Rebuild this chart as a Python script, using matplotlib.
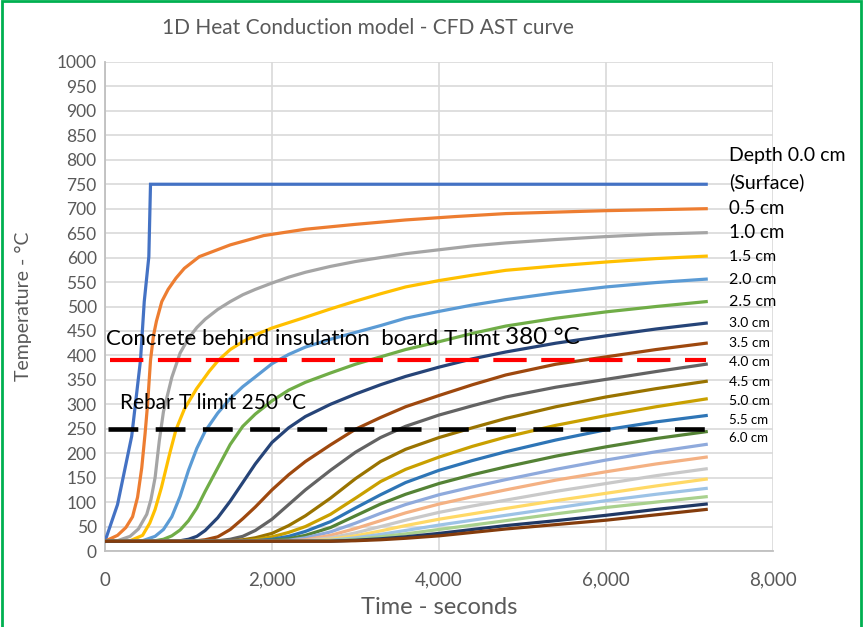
import matplotlib
matplotlib.use("Agg")
import matplotlib.pyplot as plt
from matplotlib.patches import Rectangle

plt.rcParams['font.family'] = ['Lato', 'DejaVu Sans']

# surface and the shallow nodes have their own (finer) time steps, seconds
t_surface = [0, 150, 320, 425, 470, 525, 545, 7200]
T_surface = [20, 95, 235, 390, 510, 602, 750, 750]

t_05 = [0, 150, 250, 330, 390, 440, 480, 510, 545, 580, 616, 680, 756, 850, 950, 1130,
        1500, 1900, 2400, 3000, 3600, 4200, 4800, 5400, 6000, 6600, 7200]
T_05 = [20, 32, 48, 70, 110, 170, 240, 300, 390, 440, 470, 510, 535, 558, 578, 602,
        626, 645, 658, 668, 677, 684, 690, 693, 696, 698, 700]

t_10 = [0, 150, 300, 400, 500, 550, 600, 650, 700, 800, 900, 1000, 1100, 1200, 1350, 1500,
        1650, 1800, 2000, 2200, 2400, 2700, 3000, 3300, 3600, 4000, 4400, 4800,
        5400, 6000, 6600, 7200]
T_10 = [20, 21, 30, 45, 75, 105, 150, 225, 285, 355, 405, 435, 457, 474, 494, 510,
        524, 535, 548, 560, 570, 582, 592, 600, 608, 616, 624, 630,
        637, 643, 648, 651]

t_15 = [0, 300, 450, 536, 600, 676, 776, 850, 950, 1097, 1250, 1358, 1500, 1650, 1800,
        2000, 2200, 2400, 2700, 3000, 3300, 3600, 4000, 4400, 4800, 5400, 6000,
        6600, 7200]
T_15 = [20, 21, 32, 57, 85, 130, 200, 248, 290, 332, 368, 390, 412, 428, 442,
        456, 467, 478, 495, 511, 526, 540, 553, 564, 574, 583, 591,
        598, 603]

# common time grid for the deeper nodes
t_grid = [0, 300, 450, 600, 700, 800, 900, 1000, 1100, 1200, 1350, 1500, 1650, 1800,
          2000, 2200, 2400, 2700, 3000, 3300, 3600, 4000, 4400, 4800, 5400, 6000,
          6600, 7200]

T_20 = [20, 20, 21, 30, 44, 70, 112, 165, 210, 245, 282, 312, 336, 356,
        383, 402, 417, 433, 447, 461, 476, 490, 503, 514, 528, 540, 549, 556]
T_25 = [20, 20, 20, 21, 24, 31, 43, 62, 88, 122, 170, 218, 255, 280,
        307, 329, 345, 364, 382, 397, 412, 428, 445, 460, 476, 489, 500, 510]
T_30 = [20, 20, 20, 20, 20, 20, 21, 24, 30, 42, 68, 102, 140, 178,
        222, 252, 275, 300, 321, 340, 357, 376, 393, 407, 425, 440, 454, 466]
T_35 = [20, 20, 20, 20, 20, 20, 20, 20, 21, 23, 29, 44, 66, 90,
        125, 156, 183, 217, 249, 273, 295, 318, 340, 360, 382, 397, 412, 425]
T_40 = [20, 20, 20, 20, 20, 20, 20, 20, 20, 20, 21, 24, 30, 42,
        65, 95, 125, 165, 202, 232, 255, 278, 297, 315, 335, 351, 367, 382]
T_45 = [20, 20, 20, 20, 20, 20, 20, 20, 20, 20, 20, 21, 23, 27,
        36, 52, 72, 108, 148, 183, 208, 232, 252, 271, 295, 315, 332, 347]
T_50 = [20, 20, 20, 20, 20, 20, 20, 20, 20, 20, 20, 20, 21, 23,
        29, 38, 50, 75, 108, 142, 167, 192, 214, 233, 257, 277, 295, 311]
T_55 = [20, 20, 20, 20, 20, 20, 20, 20, 20, 20, 20, 20, 20, 21,
        24, 30, 40, 60, 88, 115, 140, 165, 185, 203, 227, 248, 264, 277]
T_60 = [20, 20, 20, 20, 20, 20, 20, 20, 20, 20, 20, 20, 20, 20,
        22, 25, 32, 48, 72, 96, 116, 138, 156, 172, 194, 213, 230, 244]
T_65 = [20, 20, 20, 20, 20, 20, 20, 20, 20, 20, 20, 20, 20, 20,
        21, 22, 27, 39, 57, 77, 95, 115, 131, 146, 167, 186, 203, 218]
T_70 = [20, 20, 20, 20, 20, 20, 20, 20, 20, 20, 20, 20, 20, 20,
        20, 21, 23, 32, 46, 62, 78, 96, 111, 125, 145, 162, 178, 192]
T_75 = [20, 20, 20, 20, 20, 20, 20, 20, 20, 20, 20, 20, 20, 20,
        20, 20, 21, 27, 37, 50, 63, 79, 92, 104, 122, 138, 154, 168]
T_80 = [20, 20, 20, 20, 20, 20, 20, 20, 20, 20, 20, 20, 20, 20,
        20, 20, 20, 24, 31, 41, 52, 65, 76, 87, 103, 118, 133, 147]
T_85 = [20, 20, 20, 20, 20, 20, 20, 20, 20, 20, 20, 20, 20, 20,
        20, 20, 20, 22, 27, 34, 42, 53, 63, 73, 88, 103, 116, 128]
T_90 = [20, 20, 20, 20, 20, 20, 20, 20, 20, 20, 20, 20, 20, 20,
        20, 20, 20, 21, 24, 29, 35, 44, 53, 62, 76, 89, 100, 111]
T_95 = [20, 20, 20, 20, 20, 20, 20, 20, 20, 20, 20, 20, 20, 20,
        20, 20, 20, 20, 22, 25, 29, 36, 44, 52, 62, 73, 85, 96]
T_100 = [20, 20, 20, 20, 20, 20, 20, 20, 20, 20, 20, 20, 20, 20,
         20, 20, 20, 20, 21, 23, 26, 31, 38, 45, 54, 63, 74, 85]

deep_series = [T_20, T_25, T_30, T_35, T_40, T_45, T_50, T_55, T_60,
               T_65, T_70, T_75, T_80, T_85, T_90, T_95, T_100]

colors = ['#4472C4', '#ED7D31', '#A5A5A5', '#FFC000', '#5B9BD5', '#70AD47',
          '#264478', '#9E480E', '#636363', '#997300', '#C9A000', '#2E75B6',
          '#548235', '#8FAADC', '#F4B183', '#C9C9C9', '#FFD966', '#9DC3E6',
          '#A9D18E', '#203864', '#843C0C']

depth_labels = ["Depth 0.0 cm", "(Surface)", "0.5 cm", "1.0 cm", "1.5 cm", "2.0 cm",
                "2.5 cm", "3.0 cm", "3.5 cm", "4.0 cm", "4.5 cm", "5.0 cm",
                "5.5 cm", "6.0 cm"]

concrete_limit = 390
rebar_limit = 250

fig = plt.figure(figsize=(8.64, 6.27), dpi=100)
W, H = 864, 627
ax = fig.add_axes([105 / W, 1 - 551 / H, (773 - 105) / W, (551 - 62) / H])

lw = 2.3
ax.plot(t_surface, T_surface, color=colors[0], lw=lw, solid_joinstyle='miter', zorder=3)
ax.plot(t_05, T_05, color=colors[1], lw=lw, zorder=3)
ax.plot(t_10, T_10, color=colors[2], lw=lw, zorder=3)
ax.plot(t_15, T_15, color=colors[3], lw=lw, zorder=3)
for i, T in enumerate(deep_series):
    ax.plot(t_grid, T, color=colors[i + 4], lw=lw, zorder=3)

ax.plot([60, 7200], [concrete_limit, concrete_limit], color='#FF0000', lw=3,
        dashes=(8, 3.5), zorder=4)
ax.plot([40, 7200], [rebar_limit, rebar_limit], color='black', lw=3.3,
        dashes=(6.5, 3.8), zorder=4)

ax.set_xlim(0, 8000)
ax.set_ylim(0, 1000)
ax.set_xticks(range(0, 8001, 2000))
ax.set_xticklabels([f"{v:,}" for v in range(0, 8001, 2000)])
ax.set_yticks(range(0, 1001, 50))
ax.grid(True, color='#D9D9D9', lw=1.2, zorder=0)
ax.set_axisbelow(True)
ax.tick_params(length=0, labelsize=12.5, labelcolor='#595959', pad=6)
ax.tick_params(axis='x', labelsize=13.5, pad=15)
for s in ['top', 'right']:
    ax.spines[s].set_visible(False)
for s in ['left', 'bottom']:
    ax.spines[s].set_color('#BFBFBF')
    ax.spines[s].set_linewidth(1.3)

ax.set_xlabel("Time - seconds", fontsize=17, color='#595959', labelpad=6)
ax.set_ylabel("Temperature - °C", fontsize=14, color='#595959', labelpad=18)

fig.text(368 / W, 1 - 28 / H, "1D Heat Conduction model - CFD AST curve",
         ha='center', va='center', fontsize=15, color='#595959')

fig.text(106 / W, 1 - 339 / H, "Concrete behind insulation  board T limt", fontsize=16,
         va='center', ha='left')
fig.text(505 / W, 1 - 338 / H, "380 °C", fontsize=17.5, va='center', ha='left')
fig.text(120 / W, 1 - 403 / H, "Rebar T limit 250 °C", fontsize=15, va='center', ha='left')

label_y = [156, 182, 208, 233, 257, 280, 302, 323, 343, 362, 382, 401, 420, 438]
label_size = [14, 14, 13.5, 13.5, 11.5, 11.5, 11.5, 10, 10, 10, 10, 10, 9.5, 9.5]
for txt, y, fs in zip(depth_labels, label_y, label_size):
    fig.text(729 / W, 1 - y / H, txt, fontsize=fs, va='center', ha='left')

fig.patches.append(Rectangle((0.002, -0.01), 0.995, 1.008, transform=fig.transFigure,
                             fill=False, edgecolor='#00B050', lw=2))

fig.savefig("out.png", dpi=100)
